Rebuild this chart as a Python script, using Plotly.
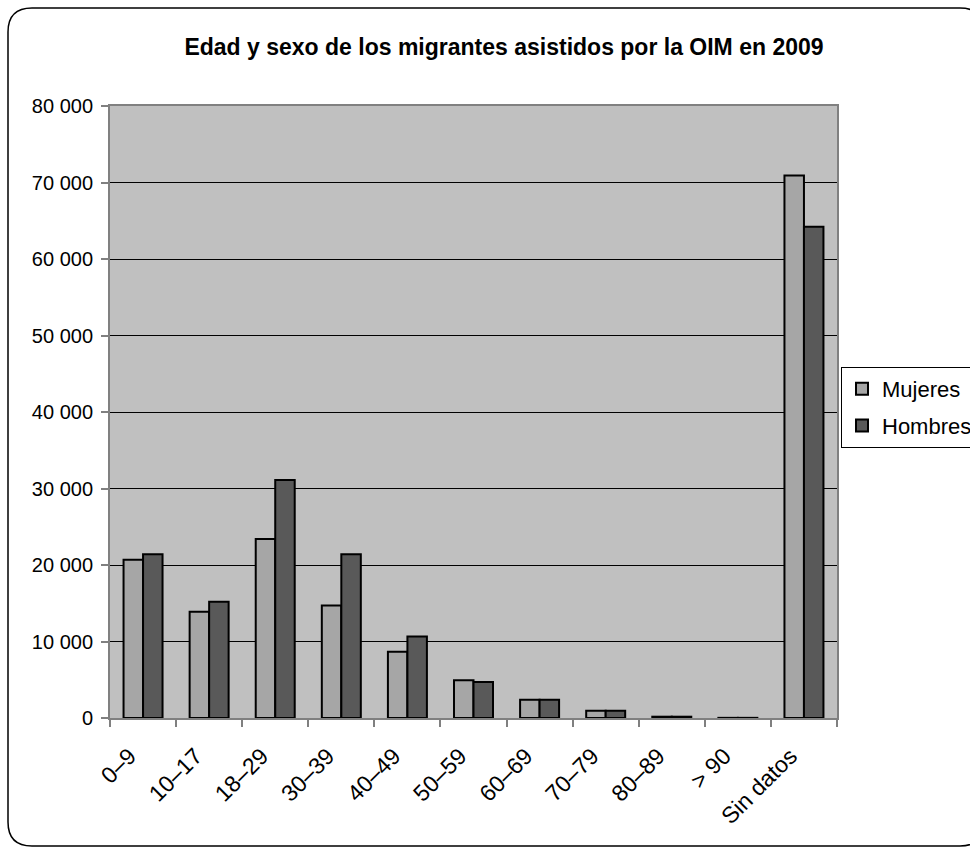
import plotly.graph_objects as go

categories = ["0–9", "10–17", "18–29", "30–39", "40–49", "50–59",
              "60–69", "70–79", "80–89", "> 90", "Sin datos"]
mujeres = [20700, 13900, 23400, 14700, 8650, 4950, 2400, 950, 170, 20, 70900]
hombres = [21400, 15200, 31100, 21400, 10650, 4700, 2400, 950, 170, 20, 64200]
y_ticks = [0, 10000, 20000, 30000, 40000, 50000, 60000, 70000, 80000]
y_tick_text = ["0", "10 000", "20 000", "30 000", "40 000", "50 000",
               "60 000", "70 000", "80 000"]

W, H = 970, 847
ML, MR, MT, MB = 110, 133, 106, 129
PW, PH = W - ML - MR, H - MT - MB
FONT = "Arial, Liberation Sans, sans-serif"


def px(x):
    return (x - ML) / PW


def py(y):
    return (H - MB - y) / PH


fig = go.Figure()
fig.add_trace(go.Bar(name="Mujeres", x=categories, y=mujeres, legendgroup="m",
                     marker=dict(color="#A6A6A6", line=dict(color="black", width=2))))
fig.add_trace(go.Bar(name="Hombres", x=categories, y=hombres, legendgroup="h",
                     marker=dict(color="#595959", line=dict(color="black", width=2))))

# rounded outer frame of the chart
x0, y0, x1, y1, r = 8, 8, 984, 846, 24
path = (f"M {px(x0 + r)},{py(y0)} L {px(x1 - r)},{py(y0)} "
        f"Q {px(x1)},{py(y0)} {px(x1)},{py(y0 + r)} L {px(x1)},{py(y1 - r)} "
        f"Q {px(x1)},{py(y1)} {px(x1 - r)},{py(y1)} L {px(x0 + r)},{py(y1)} "
        f"Q {px(x0)},{py(y1)} {px(x0)},{py(y1 - r)} L {px(x0)},{py(y0 + r)} "
        f"Q {px(x0)},{py(y0)} {px(x0 + r)},{py(y0)} Z")

# category labels, padded so the rotated text sits a little left of each tick
pad = "\u00a0" * 3
x_tick_text = [c + pad for c in categories]

fig.update_layout(
    width=W, height=H,
    margin=dict(l=ML, r=MR, t=MT, b=MB, autoexpand=False),
    paper_bgcolor="white",
    plot_bgcolor="#C0C0C0",
    font=dict(family=FONT, color="black", size=20),
    title=dict(text="<b>Edad y sexo de los migrantes asistidos por la OIM en 2009</b>",
               x=504 / W, xanchor="center", y=1 - 47 / H, yanchor="middle",
               font=dict(size=23, family=FONT)),
    barmode="group", bargap=0.41, bargroupgap=0,
    legend=dict(x=px(841), y=py(367), xanchor="left", yanchor="top",
                bgcolor="white", bordercolor="black", borderwidth=1,
                font=dict(size=22, family=FONT), tracegroupgap=5,
                traceorder="grouped", itemwidth=30),
    shapes=[dict(type="path", path=path, xref="paper", yref="paper",
                 line=dict(color="black", width=1.5), layer="below")],
    showlegend=True,
)
fig.update_xaxes(type="category", tickson="boundaries", ticks="outside", ticklen=7,
                 tickcolor="#808080", tickwidth=2, tickangle=-45,
                 tickvals=categories, ticktext=x_tick_text,
                 showline=True, linecolor="#808080", linewidth=2, mirror=True,
                 showgrid=False, tickfont=dict(size=23, family=FONT))
fig.update_yaxes(range=[0, 80000], tickvals=y_ticks, ticktext=y_tick_text,
                 ticks="outside", ticklen=7, tickcolor="#808080", tickwidth=2,
                 ticklabelstandoff=4,
                 showline=True, linecolor="#808080", linewidth=2, mirror=True,
                 showgrid=True, gridcolor="black", gridwidth=1,
                 zeroline=False, tickfont=dict(size=20, family=FONT))

fig.write_html("out.html")
